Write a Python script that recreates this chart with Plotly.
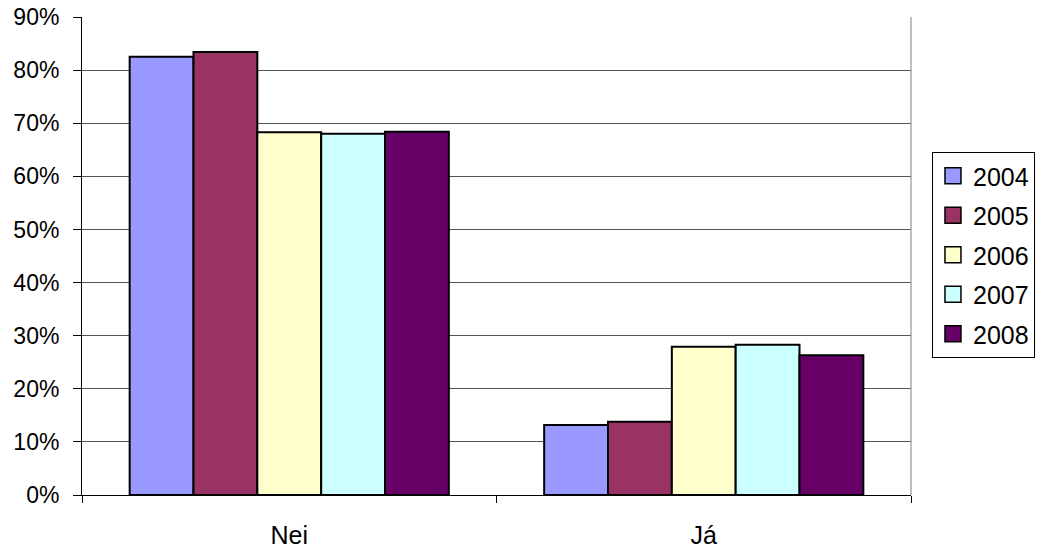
import plotly.graph_objects as go

categories = ["Nei", "Já"]
years = ["2004", "2005", "2006", "2007", "2008"]
values = {
    "2004": [82.5, 13.2],
    "2005": [83.4, 13.8],
    "2006": [68.3, 27.9],
    "2007": [68.0, 28.3],
    "2008": [68.4, 26.3],
}
colors = ["#9999FF", "#993366", "#FFFFCC", "#CCFFFF", "#660066"]
y_ticks = [0, 10, 20, 30, 40, 50, 60, 70, 80, 90]
y_ticklabels = [f"{t}%" for t in y_ticks]

fig = go.Figure()
for i, yr in enumerate(years):
    fig.add_trace(go.Bar(
        name=yr, x=categories, y=values[yr],
        marker=dict(color=colors[i], line=dict(color="black", width=2)),
        showlegend=False, legendgroup=yr,
    ))
# legend entries with larger square swatches
for i, yr in enumerate(years):
    fig.add_trace(go.Scatter(
        name=yr, x=[None], y=[None], mode="markers",
        marker=dict(symbol="square", size=16, color=colors[i],
                    line=dict(color="black", width=1.5)),
        legendgroup=yr, showlegend=True,
    ))

font_family = "Liberation Sans, Arial, sans-serif"
fig.update_layout(
    width=1038, height=548,
    margin=dict(l=82, r=127, t=17, b=53, autoexpand=False),
    paper_bgcolor="white", plot_bgcolor="white",
    barmode="group", bargap=0.23, bargroupgap=0,
    font=dict(family=font_family, color="black", size=24),
    showlegend=True,
    legend=dict(
        x=1.0253, xanchor="left", y=0.502, yanchor="middle",
        bordercolor="black", borderwidth=1, bgcolor="white",
        font=dict(size=25), tracegroupgap=4,
        itemwidth=30, itemsizing="trace",
    ),
    xaxis=dict(
        showline=True, linecolor="black", linewidth=1,
        ticks="outside", tickson="boundaries", ticklen=7, tickcolor="black",
        ticklabelstandoff=18, tickfont=dict(size=25),
        showgrid=False, automargin=False,
    ),
    yaxis=dict(
        range=[0, 90], tickvals=y_ticks, ticktext=y_ticklabels,
        showline=True, linecolor="black", linewidth=1,
        ticks="outside", ticklen=8, tickcolor="black",
        ticklabelstandoff=9, tickfont=dict(size=23),
        ticklabeloverflow="allow",
        showgrid=True, gridcolor="#555555", gridwidth=1,
        zeroline=False, automargin=False,
    ),
    shapes=[
        dict(type="line", xref="paper", yref="paper", x0=1, x1=1, y0=0, y1=1,
             line=dict(color="#808080", width=1)),
    ],
)

# remove the browser's default 8px body margin so the figure fills the window
fig.write_html(
    "out.html",
    config={"displayModeBar": False},
    post_script="document.body.style.margin='0';document.body.style.overflow='hidden';",
)
